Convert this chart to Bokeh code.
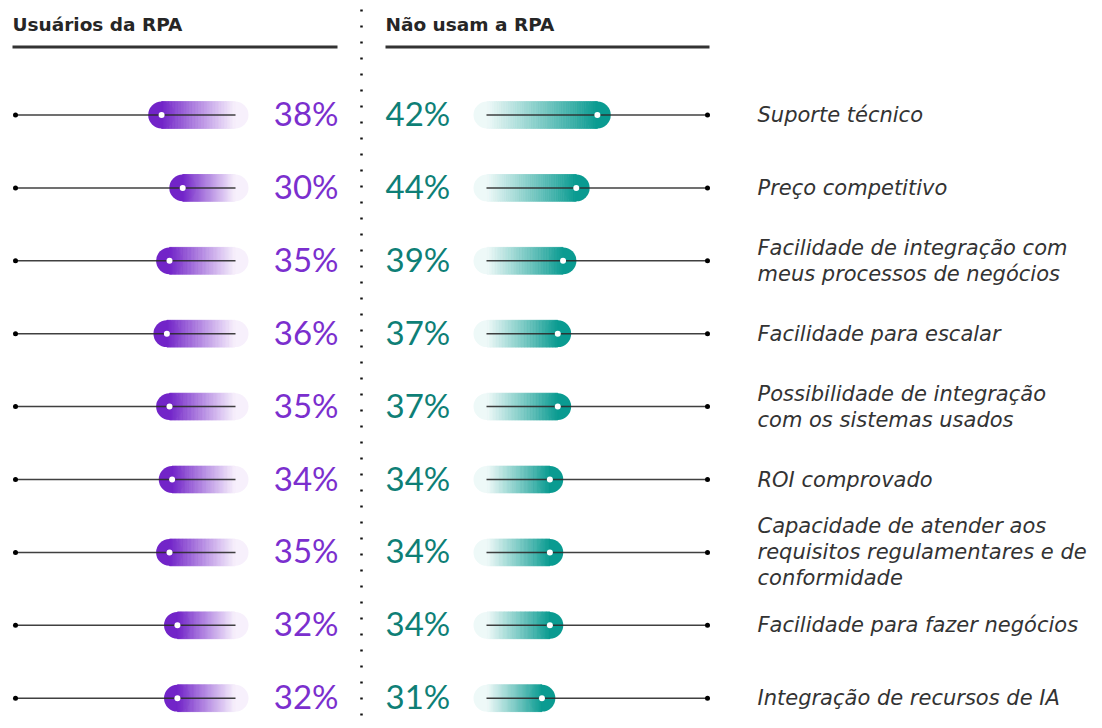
from bokeh.plotting import figure
from bokeh.models import Range1d, ColumnDataSource
from bokeh.core.properties import value
from bokeh.embed import file_html
from bokeh.resources import INLINE

# ---------------- data ----------------
categories = [
    "Suporte técnico",
    "Preço competitivo",
    "Facilidade de integração com\nmeus processos de negócios",
    "Facilidade para escalar",
    "Possibilidade de integração\ncom os sistemas usados",
    "ROI comprovado",
    "Capacidade de atender aos\nrequisitos regulamentares e de\nconformidade",
    "Facilidade para fazer negócios",
    "Integração de recursos de IA",
]
usuarios = [38, 30, 35, 36, 35, 34, 35, 32, 32]          # Usuários da RPA (%)
nao_usam = [42, 44, 39, 37, 37, 34, 34, 34, 31]          # Não usam a RPA (%) - labels
nao_usam_bar = [52, 44, 39, 37, 37, 34, 34, 34, 31]      # bar lengths as drawn in the source
header_left = "Usuários da RPA"
header_right = "Não usam a RPA"

# ---------------- styling ----------------
W, H = 1094, 720
PX = 2.64            # pixels per percent point
R_PX = 13.4          # pill cap radius (px)
R_U = R_PX / PX      # in value units
ROW0, ROWSTEP = 114.5, 72.9
HALF_H = R_PX / ROWSTEP
PURPLE_TXT = "#7B2FCE"
TEAL_TXT = "#0E7F76"
P_SOLID, P_LIGHT = (114, 36, 200), (247, 240, 252)
T_SOLID, T_LIGHT = (10, 155, 145), (238, 249, 248)
NSL = 48


def mix(c0, c1, t):
    return "#%02x%02x%02x" % tuple(int(round(a + (b - a) * t)) for a, b in zip(c0, c1))


p = figure(width=W, height=H, output_backend="svg", toolbar_location=None,
           x_range=Range1d(0, W), y_range=Range1d(H, 0), min_border=0)
p.axis.visible = False
p.grid.visible = False
p.outline_line_color = None
p.background_fill_color = "white"

# extra ranges: left (reversed %), right (%), rows
p.extra_x_ranges = {
    "left": Range1d(248 / PX, (248 - W) / PX),
    "right": Range1d(-473 / PX, (W - 473) / PX),
}
p.extra_y_ranges = {"row": Range1d((H - ROW0) / ROWSTEP, -ROW0 / ROWSTEP)}

rows = list(range(len(categories)))

# ---------------- headers ----------------
p.text(x=[12, 385], y=[24, 24], text=[header_left, header_right],
       text_font=value("DejaVu Sans"), text_font_style="bold", text_font_size="18.5px",
       text_color="#262626", text_baseline="middle", text_align="left")
p.segment(x0=[12, 385], y0=[46.5, 46.5], x1=[337, 709], y1=[46.5, 46.5],
          line_color="#333333", line_width=3)

# dotted separator
p.segment(x0=[361], y0=[9], x1=[361], y1=[H], line_color="#111111",
          line_width=2.5, line_dash="2 14")

# ---------------- pills ----------------
def pill(side, vals, solid, light):
    caps_x, caps_c, caps_y = [], [], []
    L, Rr, B, T, C = [], [], [], [], []
    for i, v in enumerate(vals):
        a, b = v - R_U, R_U       # solid end, light end (value units)
        caps_x += [a, b]
        caps_c += [mix(solid, light, 0), mix(solid, light, 1)]
        caps_y += [i, i]
        for k in range(NSL):
            t0, t1 = k / NSL, (k + 1) / NSL
            x0 = a + (b - a) * t0
            x1 = a + (b - a) * t1
            L.append(min(x0, x1)); Rr.append(max(x0, x1))
            B.append(i - HALF_H); T.append(i + HALF_H)
            C.append(mix(solid, light, (t0 + t1) / 2))
    p.scatter(x=caps_x, y=caps_y, size=2 * R_PX, fill_color=caps_c, line_color=None,
              x_range_name=side, y_range_name="row")
    p.quad(left=L, right=Rr, bottom=B, top=T, fill_color=C, line_color=C,
           line_width=0.8, x_range_name=side, y_range_name="row")


pill("left", usuarios, P_SOLID, P_LIGHT)
pill("right", nao_usam_bar, T_SOLID, T_LIGHT)

# guide lines
p.segment(x0=[15] * len(rows), x1=[235] * len(rows), y0=rows, y1=rows,
          line_color="#2b2b2b", line_width=1.5, line_alpha=0.9, y_range_name="row")
p.segment(x0=[486] * len(rows), x1=[707] * len(rows), y0=rows, y1=rows,
          line_color="#2b2b2b", line_width=1.5, line_alpha=0.9, y_range_name="row")
p.scatter(x=[15] * len(rows), y=rows, size=5, fill_color="black", line_color=None,
          y_range_name="row")
p.scatter(x=[707] * len(rows), y=rows, size=5, fill_color="black", line_color=None,
          y_range_name="row")

# white dots at value end
p.scatter(x=[v - R_U for v in usuarios], y=rows, size=6, fill_color="white",
          line_color=None, x_range_name="left", y_range_name="row")
p.scatter(x=[v - R_U for v in nao_usam_bar], y=rows, size=6, fill_color="white",
          line_color=None, x_range_name="right", y_range_name="row")

# ---------------- percentages ----------------
src = ColumnDataSource(dict(
    row=rows,
    lt=["%d%%" % v for v in usuarios],
    rt=["%d%%" % v for v in nao_usam],
    cat=categories,
))
p.text(x=338, y="row", text="lt", source=src, y_range_name="row",
       text_font=value("Lato"), text_font_size="33px", text_color=PURPLE_TXT,
       text_align="right", text_baseline="middle", y_offset=-2)
p.text(x=385, y="row", text="rt", source=src, y_range_name="row",
       text_font=value("Lato"), text_font_size="33px", text_color=TEAL_TXT,
       text_align="left", text_baseline="middle", y_offset=-2)

# ---------------- category labels ----------------
p.text(x=757, y="row", text="cat", source=src, y_range_name="row",
       text_font=value("DejaVu Sans"), text_font_style="italic", text_font_size="21px",
       text_color="#333333", text_align="left", text_baseline="middle",
       text_line_height=1.08)

open("out.html", "w").write(file_html(p, INLINE))
